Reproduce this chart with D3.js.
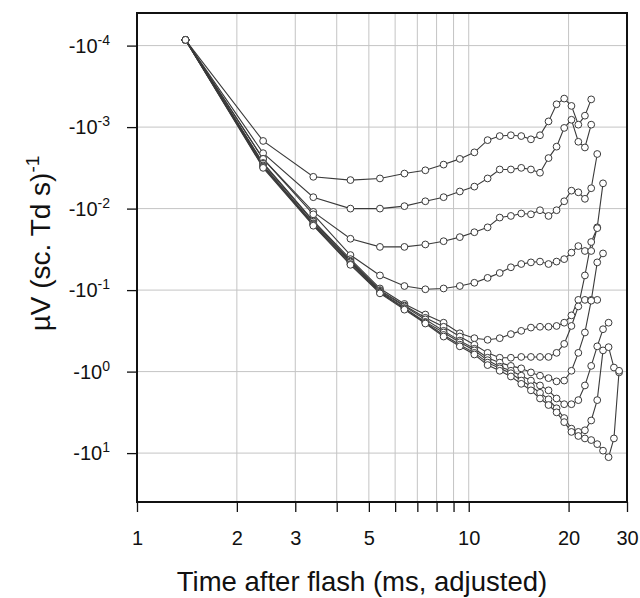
<!DOCTYPE html>
<html>
<head>
<meta charset="utf-8">
<script src="https://cdn.jsdelivr.net/npm/d3@7"></script>
<style>
  body { margin: 0; background: #fff; }
  text { font-family: "Liberation Sans", Arial, sans-serif; fill: #111; }
</style>
</head>
<body>
<div id="chart"></div>
<script>
const width = 640;
const height = 598;
const margin = { top: 13, right: 13, bottom: 96, left: 137 };

// sample times (ms, adjusted)
const times = [1.4, 2.4, 3.4, 4.4, 5.4, 6.4, 7.4, 8.4, 9.4, 10.4, 11.4, 12.4, 13.4, 14.4,
               15.4, 16.4, 17.4, 18.4, 19.4, 20.4, 21.4, 22.4, 23.4, 24.4, 25.4, 26.4, 27.4, 28.4];

// response per series, as log10 of |µV (sc. Td s)^-1|  (all responses are negative)
const s1 = [-4.07, -2.83, -2.39, -2.35, -2.37, -2.43, -2.47, -2.54, -2.61, -2.69, -2.84, -2.89, -2.90, -2.89,
            -2.85, -2.90, -3.07, -3.28, -3.35, -3.26, -3.03, -3.14, -3.34];
const s2 = [-4.07, -2.68, -2.14, -2.00, -2.00, -2.03, -2.09, -2.14, -2.21, -2.27, -2.37, -2.48, -2.48, -2.50,
            -2.48, -2.44, -2.62, -2.76, -2.99, -3.09, -2.82, -2.75, -3.03];
const s3 = [-4.07, -2.61, -1.96, -1.63, -1.53, -1.53, -1.56, -1.60, -1.65, -1.71, -1.77, -1.89, -1.91, -1.94,
            -1.93, -1.98, -1.91, -1.98, -2.09, -2.22, -2.20, -2.12, -2.25, -2.67];
const s4 = [-4.07, -2.61, -1.93, -1.43, -1.18, -1.05, -1.01, -1.02, -1.05, -1.09, -1.15, -1.21, -1.28, -1.32,
            -1.34, -1.35, -1.32, -1.35, -1.38, -1.46, -1.54, -1.48, -1.48, -1.77, -2.31];
const s5 = [-4.07, -2.56, -1.85, -1.38, -1.02, -0.83, -0.70, -0.60, -0.47, -0.41, -0.39, -0.41, -0.46, -0.50,
            -0.54, -0.55, -0.55, -0.56, -0.60, -0.69, -0.88, -0.88, -0.88, -0.88];
const s6 = [-4.07, -2.55, -1.84, -1.36, -1.00, -0.81, -0.66, -0.55, -0.43, -0.33, -0.23, -0.17, -0.17, -0.18,
            -0.18, -0.18, -0.18, -0.23, -0.34, -0.56, -0.80, -1.18, -1.59, -1.76];
const s7 = [-4.07, -2.53, -1.82, -1.35, -0.99, -0.80, -0.64, -0.50, -0.38, -0.28, -0.17, -0.11, -0.07, -0.04,
            0.01, 0.05, 0.08, 0.12, 0.11, -0.01, -0.23, -0.48, -0.87, -1.34, -1.45];
const s8 = [-4.07, -2.52, -1.81, -1.34, -0.98, -0.78, -0.61, -0.48, -0.36, -0.26, -0.14, -0.06, -0.01, 0.05,
            0.11, 0.17, 0.23, 0.33, 0.40, 0.40, 0.35, 0.17, -0.07, -0.31, -0.52, -0.60];
const s9 = [-4.07, -2.51, -1.80, -1.32, -0.97, -0.77, -0.60, -0.45, -0.33, -0.23, -0.11, -0.04, 0.02, 0.11,
            0.18, 0.26, 0.34, 0.45, 0.57, 0.70, 0.74, 0.72, 0.60, 0.35, -0.26, -0.30, -0.05, 0.01];
const s10 = [-4.07, -2.50, -1.79, -1.31, -0.96, -0.76, -0.59, -0.43, -0.31, -0.21, -0.08, -0.01, 0.06, 0.15,
             0.23, 0.33, 0.41, 0.50, 0.62, 0.74, 0.79, 0.82, 0.84, 0.89, 0.97, 1.05, 0.82, -0.01];

const seriesList = [s1, s2, s3, s4, s5, s6, s7, s8, s9, s10];

const xTicks = [1, 2, 3, 4, 5, 6, 7, 8, 9, 10, 20, 30];
const xLabels = [1, 2, 3, 5, 10, 20, 30];
const yTicks = [-4, -3, -2, -1, 0, 1];

const svg = d3.select("#chart").append("svg")
    .attr("width", width)
    .attr("height", height);

const x = d3.scaleLog()
    .domain([1, 30])
    .range([margin.left, width - margin.right]);

const y = d3.scaleLog()
    .domain([Math.pow(10, -4.4), Math.pow(10, 1.6)])
    .range([margin.top, height - margin.bottom]);

const plotW = width - margin.left - margin.right;
const plotH = height - margin.top - margin.bottom;

// grid
const grid = svg.append("g");
grid.selectAll("line.gx")
    .data(xTicks.filter(d => d > 1 && d < 30))
    .enter().append("line")
    .attr("x1", d => x(d)).attr("x2", d => x(d))
    .attr("y1", margin.top).attr("y2", height - margin.bottom)
    .attr("stroke", "#c4c4c4").attr("stroke-width", 1);
grid.selectAll("line.gy")
    .data(yTicks)
    .enter().append("line")
    .attr("x1", margin.left).attr("x2", width - margin.right)
    .attr("y1", d => y(Math.pow(10, d))).attr("y2", d => y(Math.pow(10, d)))
    .attr("stroke", "#c4c4c4").attr("stroke-width", 1);

// series
const line = d3.line()
    .x((d, i) => x(times[i]))
    .y(d => y(Math.pow(10, d)));

const seriesG = svg.append("g");
seriesList.forEach(s => {
    seriesG.append("path")
        .datum(s)
        .attr("d", line)
        .attr("fill", "none")
        .attr("stroke", "#3a3a3a")
        .attr("stroke-width", 1.1);
});
seriesList.forEach(s => {
    seriesG.selectAll(null)
        .data(s)
        .enter().append("circle")
        .attr("cx", (d, i) => x(times[i]))
        .attr("cy", d => y(Math.pow(10, d)))
        .attr("r", 3.4)
        .attr("fill", "#fff")
        .attr("stroke", "#3a3a3a")
        .attr("stroke-width", 1);
});

// axes
const xAxis = d3.axisBottom(x)
    .tickValues(xTicks)
    .tickSize(10)
    .tickFormat(d => xLabels.includes(d) ? d : "");
const gx = svg.append("g")
    .attr("transform", `translate(0,${height - margin.bottom})`)
    .call(xAxis);
gx.select(".domain").remove();
gx.selectAll(".tick line").attr("stroke", "#111").attr("stroke-width", 1.3);
gx.selectAll(".tick text")
    .attr("dy", 0).attr("y", 43)
    .style("font-size", "20px")
    .style("font-family", "Liberation Sans, Arial, sans-serif");

const yAxis = d3.axisLeft(y)
    .tickValues(yTicks.map(d => Math.pow(10, d)))
    .tickSize(10)
    .tickFormat("");
const gy = svg.append("g")
    .attr("transform", `translate(${margin.left},0)`)
    .call(yAxis);
gy.select(".domain").remove();
gy.selectAll(".tick line").attr("stroke", "#111").attr("stroke-width", 1.3);

const yLab = svg.append("g").selectAll("text")
    .data(yTicks)
    .enter().append("text")
    .attr("x", margin.left - 27)
    .attr("y", d => y(Math.pow(10, d)) + 7)
    .attr("text-anchor", "end")
    .style("font-size", "20px");
yLab.append("tspan").text("-10");
yLab.append("tspan")
    .attr("dy", -8)
    .style("font-size", "14px")
    .text(d => d);

// frame
svg.append("rect")
    .attr("x", margin.left).attr("y", margin.top)
    .attr("width", plotW).attr("height", plotH)
    .attr("fill", "none")
    .attr("stroke", "#111")
    .attr("stroke-width", 2);

// titles
svg.append("text")
    .attr("x", margin.left + plotW / 2 - 20)
    .attr("y", 591)
    .attr("text-anchor", "middle")
    .style("font-size", "27.5px")
    .text("Time after flash (ms, adjusted)");

const yt = svg.append("text")
    .attr("transform", `translate(50,${margin.top + plotH / 2 - 14}) rotate(-90)`)
    .attr("text-anchor", "middle")
    .style("font-size", "28px");
yt.append("tspan").text("\u00b5V (sc. Td s)");
yt.append("tspan").attr("dy", -11).style("font-size", "19px").text("-1");
</script>
</body>
</html>
